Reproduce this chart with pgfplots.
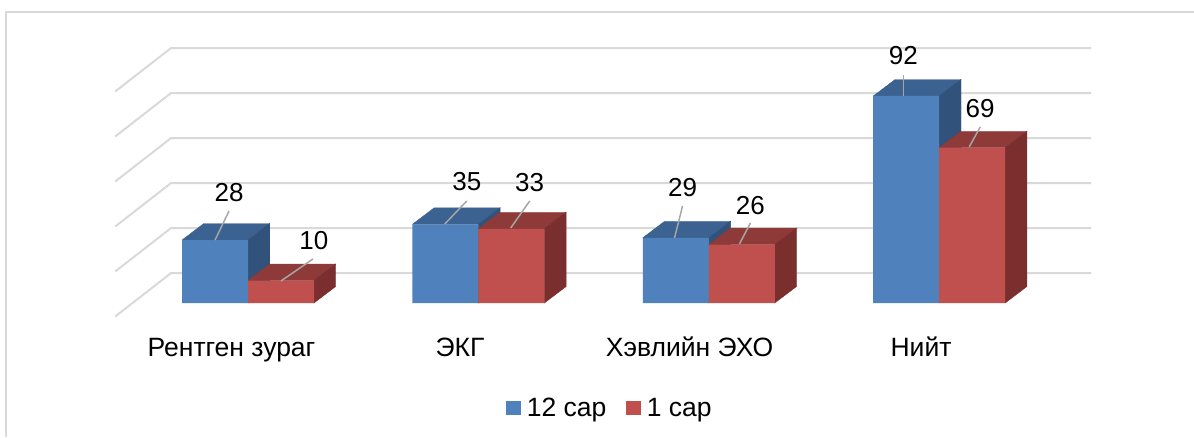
\documentclass[border=0pt]{standalone}
\usepackage{fontspec}
\setmainfont{Liberation Sans}
\usepackage{pgfplots}
\pgfplotsset{compat=1.18}
\definecolor{gridc}{HTML}{D9D9D9}
\definecolor{leader}{HTML}{A6A6A6}
\definecolor{bF}{HTML}{4F81BD}
\definecolor{bT}{HTML}{3C6291}
\definecolor{bS}{HTML}{31527B}
\definecolor{rF}{HTML}{C0504D}
\definecolor{rT}{HTML}{8E3A38}
\definecolor{rS}{HTML}{7A2F2E}
\newcommand{\lblfont}{\fontsize{26.5}{30}\selectfont}
% depth faces of a bar: left edge of front face, value, top colour, side colour
\newcommand{\barfaces}[4]{%
  \pgfmathsetmacro\xa{#1}%
  \pgfmathsetmacro\xb{#1+0.2861}%
  \pgfmathsetmacro\xc{#1+0.0945}%
  \pgfmathsetmacro\xd{#1+0.3806}%
  \pgfmathsetmacro\yt{#2+7.33}%
  \edef\temp{\noexpand\addplot[fill=#3,draw=#3,line width=0.4pt,forget plot] coordinates {(\xa,#2) (\xc,\yt) (\xd,\yt) (\xb,#2)} -- cycle;}\temp
  \edef\temp{\noexpand\addplot[fill=#4,draw=#4,line width=0.4pt,forget plot] coordinates {(\xb,0) (\xb,#2) (\xd,\yt) (\xd,7.33)} -- cycle;}\temp
}
\newcommand{\gridline}[1]{%
  \pgfmathsetmacro\yb{#1+13.33}%
  \pgfmathsetmacro\yf{#1+13.33-19.33}%
  \edef\temp{\noexpand\addplot[gridc,line width=2pt,forget plot] coordinates {(-0.5766,\yf) (-0.3338,\yb) (3.659,\yb)};}\temp
}
\newcommand{\leaderline}[4]{\addplot[leader,line width=1.5pt,forget plot] coordinates {(#1,#2) (#3,#4)};}
\begin{document}
\begin{tikzpicture}
\begin{axis}[
  at={(0,0)},anchor=south west,
  scale only axis,width=1194pt,height=437pt,
  xmin=-1.0764,xmax=4.1059,ymin=-59.556,ymax=134.667,
  clip=false,
  axis line style={draw=none},
  ymajorticks=false,
  xtick={-0.0716,0.9201,1.9162,2.9210},
  xticklabels={Рентген зураг,ЭКГ,Хэвлийн ЭХО,Нийт},
  major tick length=0pt,
  xtick pos=bottom,
  xticklabel style={font=\lblfont,anchor=center,yshift=87pt,text height=18pt,text depth=5pt},
  legend style={at={(rel axis cs:0.5109,0.0664)},anchor=center,draw=none,fill=none,
    legend columns=-1,font=\lblfont,
    /tikz/every even column/.append style={column sep=18pt},
    /tikz/every odd column/.append style={column sep=4pt}},
  legend image code/.code={\fill[#1] (0pt,-7pt) rectangle (14.5pt,7pt);},
]
\gridline{0}\gridline{20}\gridline{40}\gridline{60}\gridline{80}\gridline{100}
% blue series
\barfaces{-0.2861}{28}{bT}{bS}
\barfaces{0.7139}{35}{bT}{bS}
\barfaces{1.7139}{29}{bT}{bS}
\barfaces{2.7139}{92}{bT}{bS}
\addplot[ybar,bar width=66pt,bar shift=-33pt,fill=bF,draw=none] coordinates {(0,28) (1,35) (2,29) (3,92)};
\addlegendentry{12 сар}
% red series
\barfaces{0}{10}{rT}{rS}
\barfaces{1}{33}{rT}{rS}
\barfaces{2}{26}{rT}{rS}
\barfaces{3}{69}{rT}{rS}
\addplot[ybar,bar width=66pt,bar shift=33pt,fill=rF,draw=none] coordinates {(0,10) (1,33) (2,26) (3,69)};
\addlegendentry{1 сар}
% leader lines
\leaderline{-0.1431}{28.0}{-0.0824}{40.89}
\leaderline{0.1431}{9.78}{0.2818}{19.56}
\leaderline{0.8540}{35.11}{0.9494}{45.33}
\leaderline{1.1402}{33.33}{1.2225}{45.33}
\leaderline{1.8511}{28.89}{1.8858}{43.11}
\leaderline{2.1329}{26.22}{2.1806}{35.56}
\leaderline{2.8439}{92}{2.8439}{101.33}
\leaderline{3.1300}{69.33}{3.1777}{78.22}
% data labels
\addplot[draw=none,mark=none,forget plot,point meta=explicit symbolic,
  nodes near coords,nodes near coords align=center,
  every node near coord/.append style={font=\fontsize{26}{30}\selectfont,anchor=center,text=black}]
  table[meta=l] {
x y l
-0.0824 48.89 28
0.2861 27.56 10
0.9494 53.78 35
1.2225 53.33 33
1.8858 51.11 29
2.1806 43.11 26
2.8439 109.78 92
3.1777 86.22 69
};
% outer frame
\draw[gridc,line width=1.5pt] (rel axis cs:1,0.9725) -- (rel axis cs:0.0050,0.9725) -- (rel axis cs:0.0050,0);
\end{axis}
\pgfresetboundingbox
\path (0,0) rectangle (1194pt,437pt);
\end{tikzpicture}
\end{document}
